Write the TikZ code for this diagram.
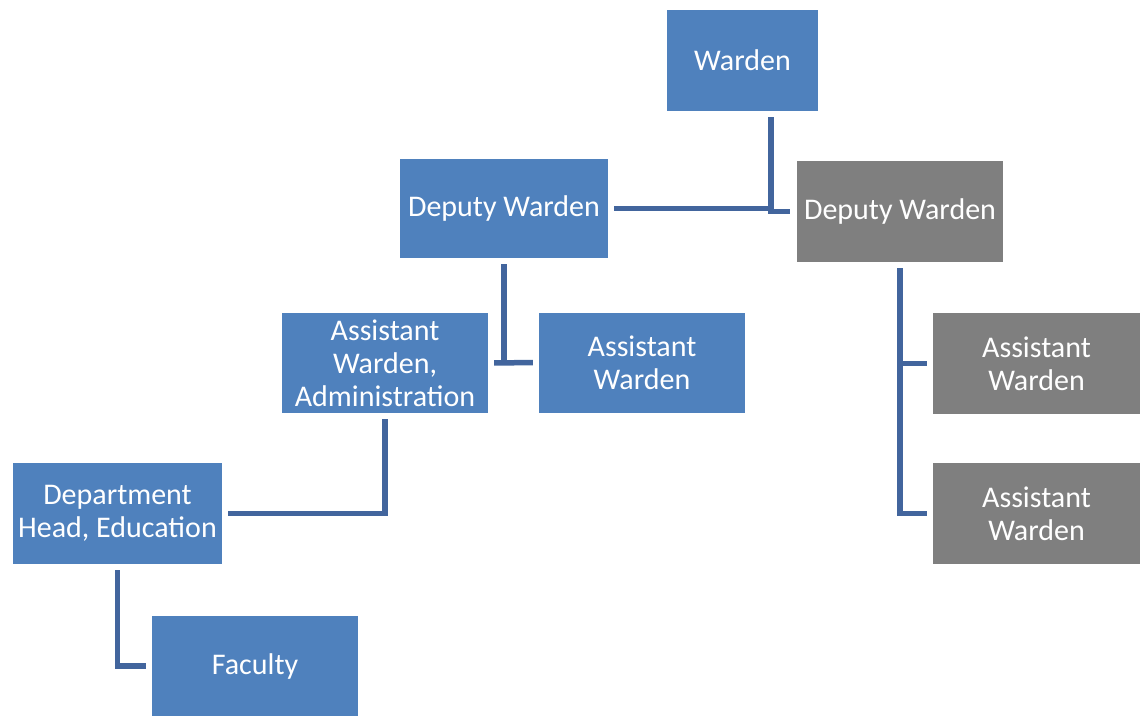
\documentclass[tikz,border=0pt]{standalone}
\usepackage{fontspec}
\setmainfont{Carlito}
\usepackage{tikz}

\definecolor{boxblue}{HTML}{4F81BD}
\definecolor{boxgray}{HTML}{7F7F7F}
\definecolor{lineblue}{HTML}{42659D}

\begin{document}
\begin{tikzpicture}[x=1pt, y=-1pt,
        post/.style={fill=boxblue, text=white, minimum width=206pt, minimum height=100pt,
            inner sep=2pt, align=center, font=\fontsize{30}{33}\selectfont},
        vacant/.style={post, fill=boxgray},
        link/.style={draw=lineblue, line width=5.5pt, shorten <=6pt, shorten >=6pt}]
        \useasboundingbox (0,0) rectangle (1146,715);

        % Nodes
        \node[post, minimum width=151pt, minimum height=101pt] (warden) at (742.5,60.5) {Warden};
        \node[post, minimum width=208pt, minimum height=99pt] (bdep) at (504,208.5) {Deputy Warden};
        \node[vacant, minimum height=101pt] (gdep) at (900,211.5) {Deputy Warden};
        \node[post] (admin) at (385,363) {Assistant\\Warden,\\Administration};
        \node[post] (aw) at (642,362.5) {Assistant\\Warden};
        \node[vacant, minimum width=207pt, minimum height=101pt] (ga1) at (1036.5,363.5) {Assistant\\Warden};
        \node[vacant, minimum width=207pt, minimum height=101pt] (ga2) at (1036.5,513.5) {Assistant\\Warden};
        \node[post, minimum width=209pt, minimum height=101pt] (dept) at (117.5,513.5) {Department\\Head, Education};
        \node[post] (fac) at (255,666) {Faculty};
        \coordinate (hub) at (771,211);

        % Edges
        \draw[link, shorten >=7pt] ([xshift=28.5pt]warden.south) |- (gdep.west);
        \draw[link, shorten >=0pt] (bdep.east) -- (bdep.east -| hub);
        \draw[link, shorten >=0pt] (bdep.south) -- (bdep.south |- aw.west);
        \draw[link] (admin.east) -- (aw.west);
        \draw[link] (gdep.south) |- (ga2.west);
        \draw[link, shorten <=0pt] (gdep.south |- ga1.west) -- (ga1.west);
        \draw[link] (admin.south) |- (dept.east);
        \draw[link] (dept.south) |- (fac.west);
    \end{tikzpicture}
\end{document}
